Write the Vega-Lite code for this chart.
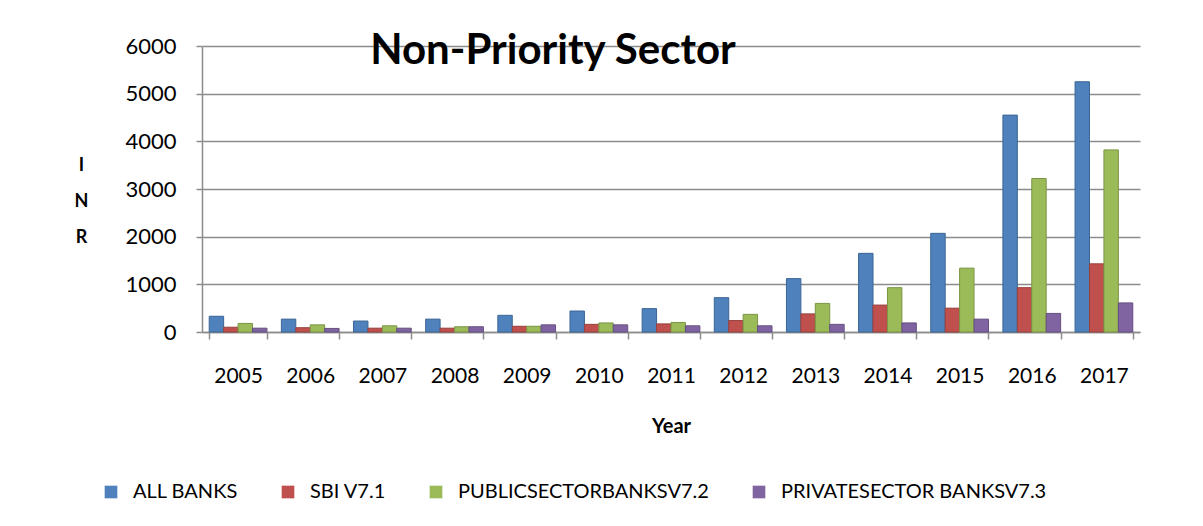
{
  "$schema": "https://vega.github.io/schema/vega-lite/v6.json",
  "width": 938,
  "height": 286,
  "autosize": {"type": "none"},
  "padding": {"left": 202, "top": 46, "right": 63, "bottom": 194},
  "background": "white",
  "title": {
    "text": "Non-Priority Sector",
    "font": "Lato",
    "fontSize": 42,
    "fontWeight": "bold",
    "color": "black",
    "anchor": "middle",
    "baseline": "alphabetic",
    "offset": 0,
    "dx": -118,
    "dy": 71
  },
  "data": {
    "values": [
      {"year": "2005", "bank": "ALL BANKS", "value": 330},
      {"year": "2005", "bank": "SBI V7.1", "value": 100},
      {"year": "2005", "bank": "PUBLICSECTORBANKSV7.2", "value": 180},
      {"year": "2005", "bank": "PRIVATESECTOR BANKSV7.3", "value": 80},
      {"year": "2006", "bank": "ALL BANKS", "value": 270},
      {"year": "2006", "bank": "SBI V7.1", "value": 90},
      {"year": "2006", "bank": "PUBLICSECTORBANKSV7.2", "value": 150},
      {"year": "2006", "bank": "PRIVATESECTOR BANKSV7.3", "value": 75},
      {"year": "2007", "bank": "ALL BANKS", "value": 230},
      {"year": "2007", "bank": "SBI V7.1", "value": 80},
      {"year": "2007", "bank": "PUBLICSECTORBANKSV7.2", "value": 130},
      {"year": "2007", "bank": "PRIVATESECTOR BANKSV7.3", "value": 80},
      {"year": "2008", "bank": "ALL BANKS", "value": 270},
      {"year": "2008", "bank": "SBI V7.1", "value": 80},
      {"year": "2008", "bank": "PUBLICSECTORBANKSV7.2", "value": 110},
      {"year": "2008", "bank": "PRIVATESECTOR BANKSV7.3", "value": 110},
      {"year": "2009", "bank": "ALL BANKS", "value": 350},
      {"year": "2009", "bank": "SBI V7.1", "value": 120},
      {"year": "2009", "bank": "PUBLICSECTORBANKSV7.2", "value": 120},
      {"year": "2009", "bank": "PRIVATESECTOR BANKSV7.3", "value": 150},
      {"year": "2010", "bank": "ALL BANKS", "value": 440},
      {"year": "2010", "bank": "SBI V7.1", "value": 160},
      {"year": "2010", "bank": "PUBLICSECTORBANKSV7.2", "value": 190},
      {"year": "2010", "bank": "PRIVATESECTOR BANKSV7.3", "value": 150},
      {"year": "2011", "bank": "ALL BANKS", "value": 490},
      {"year": "2011", "bank": "SBI V7.1", "value": 170},
      {"year": "2011", "bank": "PUBLICSECTORBANKSV7.2", "value": 200},
      {"year": "2011", "bank": "PRIVATESECTOR BANKSV7.3", "value": 130},
      {"year": "2012", "bank": "ALL BANKS", "value": 720},
      {"year": "2012", "bank": "SBI V7.1", "value": 240},
      {"year": "2012", "bank": "PUBLICSECTORBANKSV7.2", "value": 370},
      {"year": "2012", "bank": "PRIVATESECTOR BANKSV7.3", "value": 130},
      {"year": "2013", "bank": "ALL BANKS", "value": 1120},
      {"year": "2013", "bank": "SBI V7.1", "value": 380},
      {"year": "2013", "bank": "PUBLICSECTORBANKSV7.2", "value": 600},
      {"year": "2013", "bank": "PRIVATESECTOR BANKSV7.3", "value": 160},
      {"year": "2014", "bank": "ALL BANKS", "value": 1650},
      {"year": "2014", "bank": "SBI V7.1", "value": 565},
      {"year": "2014", "bank": "PUBLICSECTORBANKSV7.2", "value": 930},
      {"year": "2014", "bank": "PRIVATESECTOR BANKSV7.3", "value": 190},
      {"year": "2015", "bank": "ALL BANKS", "value": 2070},
      {"year": "2015", "bank": "SBI V7.1", "value": 500},
      {"year": "2015", "bank": "PUBLICSECTORBANKSV7.2", "value": 1340},
      {"year": "2015", "bank": "PRIVATESECTOR BANKSV7.3", "value": 270},
      {"year": "2016", "bank": "ALL BANKS", "value": 4550},
      {"year": "2016", "bank": "SBI V7.1", "value": 930},
      {"year": "2016", "bank": "PUBLICSECTORBANKSV7.2", "value": 3220},
      {"year": "2016", "bank": "PRIVATESECTOR BANKSV7.3", "value": 390},
      {"year": "2017", "bank": "ALL BANKS", "value": 5250},
      {"year": "2017", "bank": "SBI V7.1", "value": 1430},
      {"year": "2017", "bank": "PUBLICSECTORBANKSV7.2", "value": 3820},
      {"year": "2017", "bank": "PRIVATESECTOR BANKSV7.3", "value": 610}
    ]
  },
  "mark": {"type": "bar", "strokeWidth": 1},
  "encoding": {
    "x": {
      "field": "year",
      "type": "nominal",
      "sort": null,
      "scale": {"paddingInner": 0.2, "paddingOuter": 0.1},
      "axis": {
        "title": "Year",
        "labelAngle": 0,
        "labelFont": "Lato",
        "labelFontSize": 21,
        "labelColor": "black",
        "labelPadding": 26,
        "tickBand": "extent",
        "tickSize": 7,
        "tickColor": "#8c8c8c",
        "tickWidth": 1.5,
        "domainColor": "#8c8c8c",
        "domainWidth": 1.5,
        "titleFont": "Lato",
        "titleFontSize": 20,
        "titleFontWeight": "bold",
        "titleColor": "black",
        "titlePadding": 30
      }
    },
    "xOffset": {
      "field": "bank",
      "type": "nominal",
      "sort": ["ALL BANKS", "SBI V7.1", "PUBLICSECTORBANKSV7.2", "PRIVATESECTOR BANKSV7.3"],
      "scale": {"paddingInner": 0}
    },
    "y": {
      "field": "value",
      "type": "quantitative",
      "scale": {"domain": [0, 6000]},
      "axis": {
        "values": [0, 1000, 2000, 3000, 4000, 5000, 6000],
        "format": "d",
        "title": ["I", "N", "R"],
        "titleAngle": 0,
        "titleX": -121,
        "titleY": 124,
        "titleAlign": "center",
        "titleBaseline": "alphabetic",
        "titleLineHeight": 36,
        "titleFont": "Lato",
        "titleFontSize": 18,
        "titleFontWeight": "bold",
        "titleColor": "black",
        "labelFont": "Lato",
        "labelFontSize": 22,
        "labelColor": "black",
        "labelPadding": 20,
        "tickSize": 6,
        "tickColor": "#8c8c8c",
        "tickWidth": 1.5,
        "domainColor": "#8c8c8c",
        "domainWidth": 1.5,
        "grid": true,
        "gridColor": "#8c8c8c",
        "gridWidth": 1.5
      }
    },
    "color": {
      "field": "bank",
      "type": "nominal",
      "sort": ["ALL BANKS", "SBI V7.1", "PUBLICSECTORBANKSV7.2", "PRIVATESECTOR BANKSV7.3"],
      "scale": {
        "domain": ["ALL BANKS", "SBI V7.1", "PUBLICSECTORBANKSV7.2", "PRIVATESECTOR BANKSV7.3"],
        "range": ["#4F81BD", "#C0504D", "#9BBB59", "#8064A2"]
      },
      "legend": {
        "title": null,
        "orient": "none",
        "direction": "horizontal",
        "legendX": -101,
        "legendY": 436,
        "symbolType": "square",
        "symbolSize": 160,
        "symbolStrokeWidth": 0,
        "labelFont": "Lato",
        "labelFontSize": 20,
        "labelColor": "black",
        "labelLimit": 400,
        "columnPadding": 40,
        "labelOffset": 12
      }
    },
    "stroke": {
      "field": "bank",
      "type": "nominal",
      "scale": {
        "domain": ["ALL BANKS", "SBI V7.1", "PUBLICSECTORBANKSV7.2", "PRIVATESECTOR BANKSV7.3"],
        "range": ["#3A6595", "#97403D", "#7A9445", "#654F80"]
      },
      "legend": null
    }
  },
  "config": {
    "view": {"stroke": null},
    "font": "Lato"
  }
}
